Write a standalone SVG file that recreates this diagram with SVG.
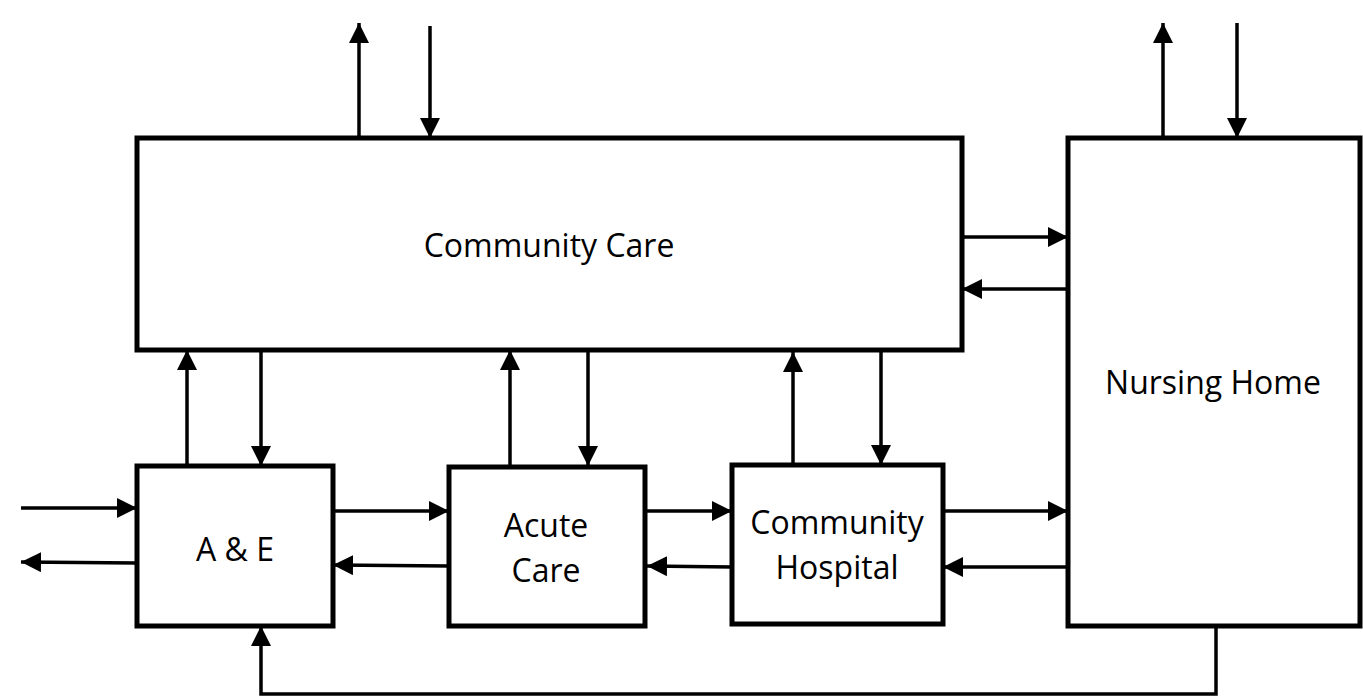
<svg xmlns="http://www.w3.org/2000/svg" width="1363" height="699" viewBox="0 0 1363 699">
<defs>
<marker id="ah" viewBox="0 0 20 20" refX="20" refY="10" markerWidth="20" markerHeight="20" markerUnits="userSpaceOnUse" orient="auto">
<path d="M0,0 L20,10 L0,20 Z" fill="#000"/>
</marker>
<style>
.box{fill:#fff;stroke:#000;stroke-width:5}
.ln{fill:none;stroke:#000;stroke-width:3.5}
.ar{fill:none;stroke:#000;stroke-width:3.5;marker-end:url(#ah)}
.t{font-family:"Open Sans","Liberation Sans",sans-serif;font-size:32px;fill:#000;text-anchor:middle}
</style>
</defs>
<rect width="1363" height="699" fill="#fff"/>
<g id="connectors">
<line class="ar" x1="359" y1="138" x2="359" y2="23"/>
<line class="ar" x1="430" y1="26" x2="430" y2="138"/>
<line class="ar" x1="1163" y1="138" x2="1163" y2="23"/>
<line class="ar" x1="1237" y1="23" x2="1237" y2="138"/>
<line class="ar" x1="962" y1="237" x2="1068" y2="237"/>
<line class="ar" x1="1066" y1="289" x2="962" y2="289"/>
<line class="ar" x1="187" y1="466" x2="187" y2="350"/>
<line class="ar" x1="261" y1="350" x2="261" y2="466"/>
<line class="ar" x1="510" y1="466" x2="510" y2="350"/>
<line class="ar" x1="588" y1="350" x2="588" y2="466"/>
<line class="ar" x1="793" y1="465" x2="793" y2="352"/>
<line class="ar" x1="881" y1="350" x2="881" y2="465"/>
<line class="ar" x1="21" y1="508" x2="137" y2="508"/>
<line class="ar" x1="137" y1="563" x2="21" y2="562"/>
<line class="ar" x1="333" y1="511" x2="449" y2="511"/>
<line class="ar" x1="449" y1="566" x2="333" y2="565"/>
<line class="ar" x1="645" y1="511" x2="732" y2="511"/>
<line class="ar" x1="732" y1="567" x2="647" y2="566"/>
<line class="ar" x1="943" y1="511" x2="1068" y2="511"/>
<line class="ar" x1="1066" y1="567" x2="943" y2="567"/>
<path class="ar" d="M1216,626 L1216,694 L261,694 L261,626"/>
</g>
<g id="community-care">
<rect class="box" x="137" y="138" width="825" height="212"/>
<text class="t" x="549" y="257">Community Care</text>
</g>
<g id="nursing-home">
<rect class="box" x="1068" y="138" width="292" height="488"/>
<text class="t" x="1213" y="394">Nursing Home</text>
</g>
<g id="a-and-e">
<rect class="box" x="137" y="466" width="196" height="160"/>
<text class="t" x="235" y="561">A &amp; E</text>
</g>
<g id="acute-care">
<rect class="box" x="449" y="467" width="196" height="159"/>
<text class="t" x="546" y="537">Acute</text>
<text class="t" x="546" y="582">Care</text>
</g>
<g id="community-hospital">
<rect class="box" x="732" y="465" width="211" height="159"/>
<text class="t" x="837" y="534">Community</text>
<text class="t" x="837" y="579">Hospital</text>
</g>
</svg>
